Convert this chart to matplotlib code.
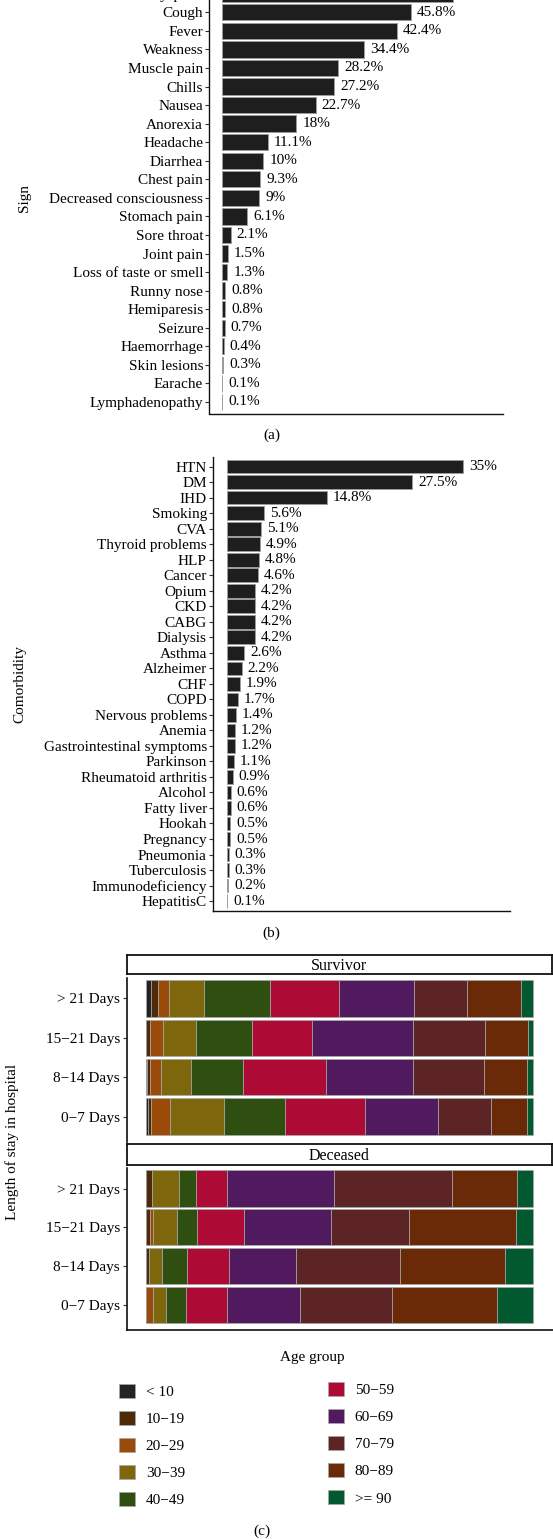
import matplotlib
matplotlib.use("Agg")
import matplotlib.pyplot as plt
from matplotlib.patches import Patch
import numpy as np

# ---------------- data ----------------
sign_labels = ["Dyspnea", "Cough", "Fever", "Weakness", "Muscle pain", "Chills", "Nausea",
               "Anorexia", "Headache", "Diarrhea", "Chest pain", "Decreased consciousness",
               "Stomach pain", "Sore throat", "Joint pain", "Loss of taste or smell",
               "Runny nose", "Hemiparesis", "Seizure", "Haemorrhage", "Skin lesions",
               "Earache", "Lymphadenopathy"]
sign_values = [55.9, 45.8, 42.4, 34.4, 28.2, 27.2, 22.7, 18, 11.1, 10, 9.3, 9, 6.1, 2.1,
               1.5, 1.3, 0.8, 0.8, 0.7, 0.4, 0.3, 0.1, 0.1]

como_labels = ["HTN", "DM", "IHD", "Smoking", "CVA", "Thyroid problems", "HLP", "Cancer",
               "Opium", "CKD", "CABG", "Dialysis", "Asthma", "Alzheimer", "CHF", "COPD",
               "Nervous problems", "Anemia", "Gastrointestinal symptoms", "Parkinson",
               "Rheumatoid arthritis", "Alcohol", "Fatty liver", "Hookah", "Pregnancy",
               "Pneumonia", "Tuberculosis", "Immunodeficiency", "HepatitisC"]
como_values = [35, 27.5, 14.8, 5.6, 5.1, 4.9, 4.8, 4.6, 4.2, 4.2, 4.2, 4.2, 2.6, 2.2, 1.9,
               1.7, 1.4, 1.2, 1.2, 1.1, 0.9, 0.6, 0.6, 0.5, 0.5, 0.3, 0.3, 0.2, 0.1]

stay_labels = ["> 21 Days", "15\u221221 Days", "8\u221214 Days", "0\u22127 Days"]
age_groups = ["< 10", "10\u221219", "20\u221229", "30\u221239", "40\u221249",
              "50\u221259", "60\u221269", "70\u221279", "80\u221289", ">= 90"]
age_colors = ["#232323", "#4e2a0b", "#9a4a09", "#7e660d", "#2f4f10",
              "#ad0b35", "#521a5e", "#5c2425", "#6a2a08", "#02592f"]

# percentage of each age group per length of stay (rows follow stay_labels)
survivor_pct = [
    [1.3, 1.9, 2.6, 9.1, 17.1, 17.8, 19.5, 13.5, 14.1, 3.1],
    [0.0, 1.0, 3.4, 8.5, 14.4, 15.6, 26.2, 18.6, 11.0, 1.4],
    [0.2, 0.75, 2.9, 7.7, 13.4, 21.4, 22.6, 18.2, 11.2, 1.55],
    [0.43, 0.86, 5.0, 13.9, 15.8, 20.6, 18.8, 13.9, 9.3, 1.55],
]
deceased_pct = [
    [0.0, 1.6, 0.0, 6.9, 4.3, 8.1, 27.7, 30.5, 16.7, 4.2],
    [0.0, 1.03, 0.86, 6.1, 5.25, 12.05, 22.55, 20.05, 27.6, 4.5],
    [0.0, 0.86, 0.0, 3.27, 6.54, 10.67, 17.39, 26.76, 27.2, 7.31],
    [0.0, 0.0, 1.9, 3.2, 5.1, 10.8, 18.7, 23.9, 27.2, 9.3],
]

# ---------------- style ----------------
FONT = ["Liberation Serif", "DejaVu Serif"]
plt.rcParams["font.family"] = FONT
plt.rcParams["axes.unicode_minus"] = False
FS = 11

W, H = 553, 1539
fig = plt.figure(figsize=(W / 100, H / 100), dpi=100)


def box(l, t, r, b):
    return [l / W, 1 - b / H, (r - l) / W, (b - t) / H]


def bar_panel(rect, labels, values, xlim):
    ax = fig.add_axes(box(*rect))
    y = np.arange(len(labels))
    ax.barh(y, values, height=0.88, color="#1e1e1e", edgecolor="#9c9c9c", linewidth=0.7)
    ax.set_ylim(len(labels) - 1 + 0.62, -0.6)
    ax.set_xlim(*xlim)
    ax.set_yticks(y)
    ax.set_yticklabels(labels, fontsize=FS)
    ax.set_xticks([])
    for s in ["top", "right"]:
        ax.spines[s].set_visible(False)
    for s in ["left", "bottom"]:
        ax.spines[s].set_linewidth(1.0)
        ax.spines[s].set_color("#111111")
    ax.tick_params(axis="y", length=3, width=0.8, color="#333333", pad=1.2)
    for yi, v in zip(y, values):
        ax.annotate(f"{v:g}%", (v, yi), xytext=(4.3, 0), textcoords="offset points",
                    va="center", ha="left", fontsize=FS)
    return ax


# (a) signs
bar_panel((209, -17.4, 503, 413.5), sign_labels, sign_values, (-3.15, 68.1))
fig.text(25 / W, 1 - 198 / H, "Sign", rotation=90, ha="center", va="center", fontsize=FS)
fig.text(271.7 / W, 1 - 435 / H, "(a)", ha="center", va="center", fontsize=FS)

# (b) comorbidity
bar_panel((212.7, 457.3, 510, 910.7), como_labels, como_values, (-2.08, 42.0))
fig.text(20 / W, 1 - 684 / H, "Comorbidity", rotation=90, ha="center", va="center", fontsize=FS)
fig.text(271.7 / W, 1 - 933.3 / H, "(b)", ha="center", va="center", fontsize=FS)


# (c) stacked proportions
def stack_panel(rect, strip_rect, title, pct, bottom_spine):
    ax = fig.add_axes(box(*rect))
    y = np.arange(len(stay_labels))
    arr = np.array(pct, dtype=float)
    arr = arr / arr.sum(axis=1, keepdims=True)
    left = np.zeros(len(stay_labels))
    for j, (g, c) in enumerate(zip(age_groups, age_colors)):
        ax.barh(y, arr[:, j], left=left, height=0.93, color=c, edgecolor="#a8a8a8",
                linewidth=0.5, label=g)
        left += arr[:, j]
    ax.set_xlim(-0.05, 1.05)
    ax.set_ylim(len(stay_labels) - 1 + 0.64, -0.52)
    ax.set_yticks(y)
    ax.set_yticklabels(stay_labels, fontsize=FS)
    ax.set_xticks([])
    ax.spines["top"].set_visible(False)
    ax.spines["right"].set_visible(False)
    ax.spines["bottom"].set_visible(bottom_spine)
    for s in ["left", "bottom"]:
        ax.spines[s].set_linewidth(1.2)
        ax.spines[s].set_color("#111111")
    ax.tick_params(axis="y", length=3, width=0.8, color="#333333", pad=2)
    sx = fig.add_axes(box(*strip_rect))
    sx.set_xticks([])
    sx.set_yticks([])
    for s in sx.spines.values():
        s.set_linewidth(1.3)
        s.set_color("#111111")
    sx.text(0.5, 0.45, title, ha="center", va="center", fontsize=FS + 0.5, transform=sx.transAxes)
    return ax


stack_panel((126.7, 978, 552.7, 1141.7), (126.7, 955, 552.3, 974.3), "Survivor",
            survivor_pct, False)
stack_panel((126.7, 1168.3, 552.7, 1330), (126.7, 1144, 552.3, 1165), "Deceased",
            deceased_pct, True)

fig.text(12 / W, 1 - 1142 / H, "Length of stay in hospital", rotation=90, ha="center",
         va="center", fontsize=FS)
fig.text(312.5 / W, 1 - 1358 / H, "Age group", ha="center", va="center", fontsize=FS)

handles = [Patch(facecolor=c, edgecolor="#a8a8a8", linewidth=0.5, label=g)
           for g, c in zip(age_groups, age_colors)]
leg_kw = dict(frameon=False, fontsize=FS, handlelength=1.05, handleheight=1.05,
              handletextpad=0.7, labelspacing=0.77, borderpad=0, borderaxespad=0)
l1 = fig.legend(handles=handles[:5], loc="upper left",
                bbox_to_anchor=(119 / W, 1 - 1383.5 / H), **leg_kw)
l2 = fig.legend(handles=handles[5:], loc="upper left",
                bbox_to_anchor=(328 / W, 1 - 1382 / H), **leg_kw)

fig.text(262 / W, 1 - 1531.7 / H, "(c)", ha="center", va="center", fontsize=FS)

fig.savefig("out.png", dpi=100)
